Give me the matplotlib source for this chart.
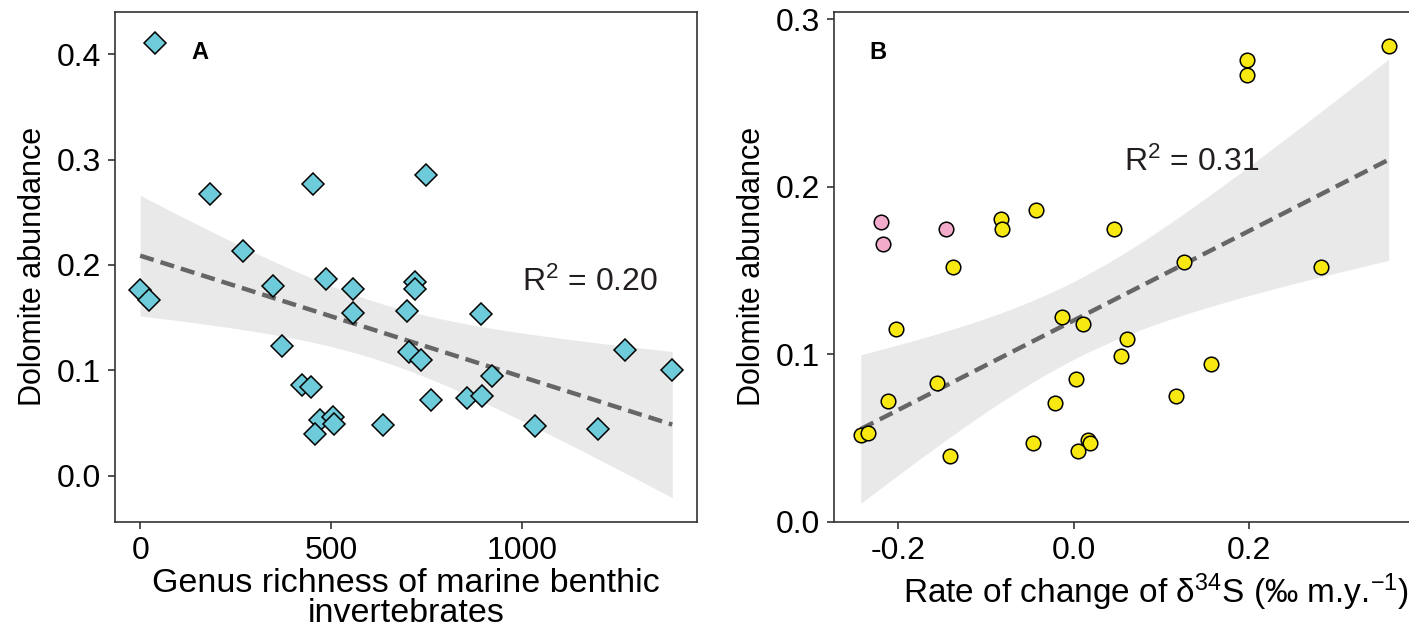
import numpy as np
import matplotlib
matplotlib.use('Agg')
import matplotlib.pyplot as plt

plt.rcParams['font.family'] = ['Liberation Sans', 'DejaVu Sans']
plt.rcParams['mathtext.fontset'] = 'custom'
plt.rcParams['mathtext.rm'] = 'Liberation Sans'
plt.rcParams['mathtext.it'] = 'Liberation Sans:italic'
plt.rcParams['mathtext.bf'] = 'Liberation Sans:bold'

# Panel A: genus richness vs dolomite abundance
genus_richness = [38, 184, 452, 750, 269, 348, 486, 557, 720, 719, 0, 23,
                  557, 699, 894, 372, 704, 737, 1270, 1394, 921, 425, 447,
                  763, 856, 895, 471, 505, 509, 458, 637, 1034, 1200]
dolomite_a = [0.411, 0.267, 0.277, 0.285, 0.213, 0.180, 0.187, 0.177, 0.184,
              0.177, 0.176, 0.167, 0.154, 0.156, 0.153, 0.123, 0.117, 0.110,
              0.119, 0.100, 0.095, 0.086, 0.084, 0.072, 0.074, 0.076, 0.053,
              0.056, 0.049, 0.040, 0.048, 0.047, 0.044]

# Panel B: rate of change of d34S vs dolomite abundance
rate_pink = [-0.220, -0.218, -0.146]
dolomite_pink = [0.179, 0.166, 0.175]
rate_yellow = [0.359, 0.198, 0.197, -0.043, -0.083, -0.082, 0.046, -0.138,
               0.126, 0.282, -0.203, -0.014, 0.010, 0.061, 0.054, 0.157,
               -0.156, 0.003, -0.212, -0.022, 0.116, -0.243, -0.235, -0.141,
               -0.046, 0.016, 0.018, 0.005]
dolomite_yellow = [0.284, 0.276, 0.267, 0.186, 0.181, 0.175, 0.175, 0.152,
                   0.155, 0.152, 0.115, 0.122, 0.118, 0.109, 0.099, 0.094,
                   0.083, 0.085, 0.072, 0.071, 0.075, 0.052, 0.053, 0.039,
                   0.047, 0.049, 0.047, 0.042]

# two-sided 95% t critical values by degrees of freedom
T_CRIT = {26: 2.0555, 31: 2.0395}


def fit_with_ci(ax, x, y):
    x = np.asarray(x, float)
    y = np.asarray(y, float)
    n = len(x)
    slope, intercept = np.polyfit(x, y, 1)
    resid = y - (slope * x + intercept)
    s = np.sqrt(np.sum(resid ** 2) / (n - 2))
    grid = np.linspace(x.min(), x.max(), 200)
    pred = slope * grid + intercept
    se = s * np.sqrt(1 / n + (grid - x.mean()) ** 2 / np.sum((x - x.mean()) ** 2))
    t = T_CRIT[n - 2]
    ax.fill_between(grid, pred - t * se, pred + t * se, color='#e9e9e9', lw=0, zorder=1)
    ax.plot(grid, pred, color='#666666', lw=3.2, linestyle=(0, (3.2, 1.6)), zorder=2)


def style_axes(ax):
    for side in ['left', 'bottom', 'top', 'right']:
        ax.spines[side].set_color('#333333')
        ax.spines[side].set_linewidth(1.2)
    ax.tick_params(axis='both', direction='out', length=5, width=1.1,
                   labelsize=23, pad=5, color='#222222')


fig = plt.figure(figsize=(14.09, 6.31), dpi=100)

# ---- Panel A ----
ax1 = fig.add_axes([0.0816, 0.1732, 0.4131, 0.8083])
fit_with_ci(ax1, genus_richness, dolomite_a)
ax1.plot(genus_richness, dolomite_a, linestyle='none', marker='D', ms=11.0,
         mfc='#6dcbda', mec='black', mew=1.1, zorder=3)
ax1.set_xlim(-66, 1459)
ax1.set_ylim(-0.0437, 0.4404)
ax1.set_xticks([0, 500, 1000])
ax1.set_yticks([0.0, 0.1, 0.2, 0.3, 0.4])
ax1.set_yticklabels(['0.0', '0.1', '0.2', '0.3', '0.4'])
ax1.set_xlabel('Genus richness of marine benthic\ninvertebrates', fontsize=24.5,
               linespacing=0.95, labelpad=2)
ax1.set_ylabel('Dolomite abundance', fontsize=22, labelpad=6)
ax1.text(0.131, 0.919, 'A', transform=ax1.transAxes, fontsize=17,
         fontweight='bold', va='center', ha='left')
ax1.text(0.7, 0.47, 'R$^2$ = 0.20', transform=ax1.transAxes, fontsize=23,
         color='#231f20', va='center', ha='left')
style_axes(ax1)

# ---- Panel B (axes runs past the right edge of the figure) ----
ax2 = fig.add_axes([0.5916, 0.1732, 0.4574, 0.8083])
fit_with_ci(ax2, rate_yellow, dolomite_yellow)
ax2.plot(rate_pink, dolomite_pink, linestyle='none', marker='o', ms=10.5,
         mfc='#f3abcb', mec='black', mew=1.1, zorder=3)
ax2.plot(rate_yellow, dolomite_yellow, linestyle='none', marker='o', ms=10.5,
         mfc='#f8e812', mec='black', mew=1.1, zorder=3)
ax2.set_xlim(-0.274, 0.461)
ax2.set_ylim(0.0, 0.3046)
ax2.set_xticks([-0.2, 0.0, 0.2])
ax2.set_xticklabels(['-0.2', '0.0', '0.2'])
ax2.set_yticks([0.0, 0.1, 0.2, 0.3])
ax2.set_yticklabels(['0.0', '0.1', '0.2', '0.3'])
ax2.set_xlabel('Rate of change of \u03b4$^{34}$S (\u2030 m.y.$^{\u2212 1}$)',
               fontsize=24, labelpad=4)
ax2.set_ylabel('Dolomite abundance', fontsize=22, labelpad=6)
ax2.text(0.055, 0.919, 'B', transform=ax2.transAxes, fontsize=17,
         fontweight='bold', va='center', ha='left')
ax2.text(0.451, 0.705, 'R$^2$ = 0.31', transform=ax2.transAxes, fontsize=23,
         color='#231f20', va='center', ha='left')
style_axes(ax2)
ax2.spines['right'].set_visible(False)

fig.savefig('out.png', dpi=100)
